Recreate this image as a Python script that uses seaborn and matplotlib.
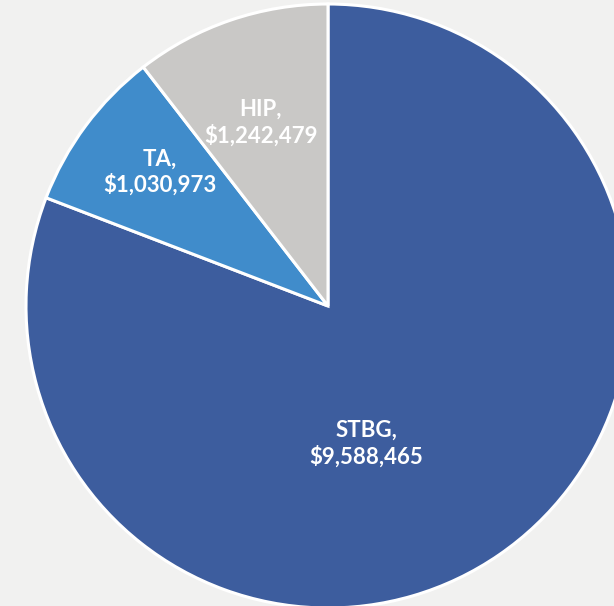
import matplotlib
matplotlib.use("Agg")
import matplotlib.pyplot as plt
import seaborn as sns
import numpy as np

categories = ["STBG", "TA", "HIP"]
values = [9588465, 1030973, 1242479]
label_texts = ["STBG,\n$9,588,465", "TA,\n$1,030,973", "HIP,\n$1,242,479"]

colors = ["#3d5d9e", "#408ccb", "#c9c8c6"]
bg = "#f1f1f0"

sns.set_theme(style="white")
plt.rcParams["font.family"] = ["Lato", "DejaVu Sans"]

fig = plt.figure(figsize=(6.14, 6.06), dpi=100, facecolor=bg)
ax = fig.add_axes([0, 0, 1, 1])
ax.set_facecolor(bg)

wedges, _ = ax.pie(values, colors=colors, startangle=90, counterclock=False,
                   radius=1.0, center=(0, 0),
                   wedgeprops=dict(edgecolor="white", linewidth=2.2))

# label placement: radial distance and angular adjustment from wedge mid-angle
dists = [0.474, 0.711, 0.645]
angle_adj = [-19.1, -1.9, 1.3]
for w, txt, d, a in zip(wedges, label_texts, dists, angle_adj):
    mid = np.deg2rad((w.theta1 + w.theta2) / 2 + a)
    ax.text(d * np.cos(mid), d * np.sin(mid), txt, ha="center", va="center",
            color="white", fontsize=16, fontweight="bold", linespacing=1.25)

# pixel mapping: center (328,306), radius 302 px
r = 302.0
cx, cy = 328.0, 306.0
ax.set_xlim(-cx / r, (614 - cx) / r)
ax.set_ylim(-(606 - cy) / r, cy / r)
ax.set_aspect("auto")
ax.axis("off")

fig.savefig("out.png", dpi=100, facecolor=bg)
